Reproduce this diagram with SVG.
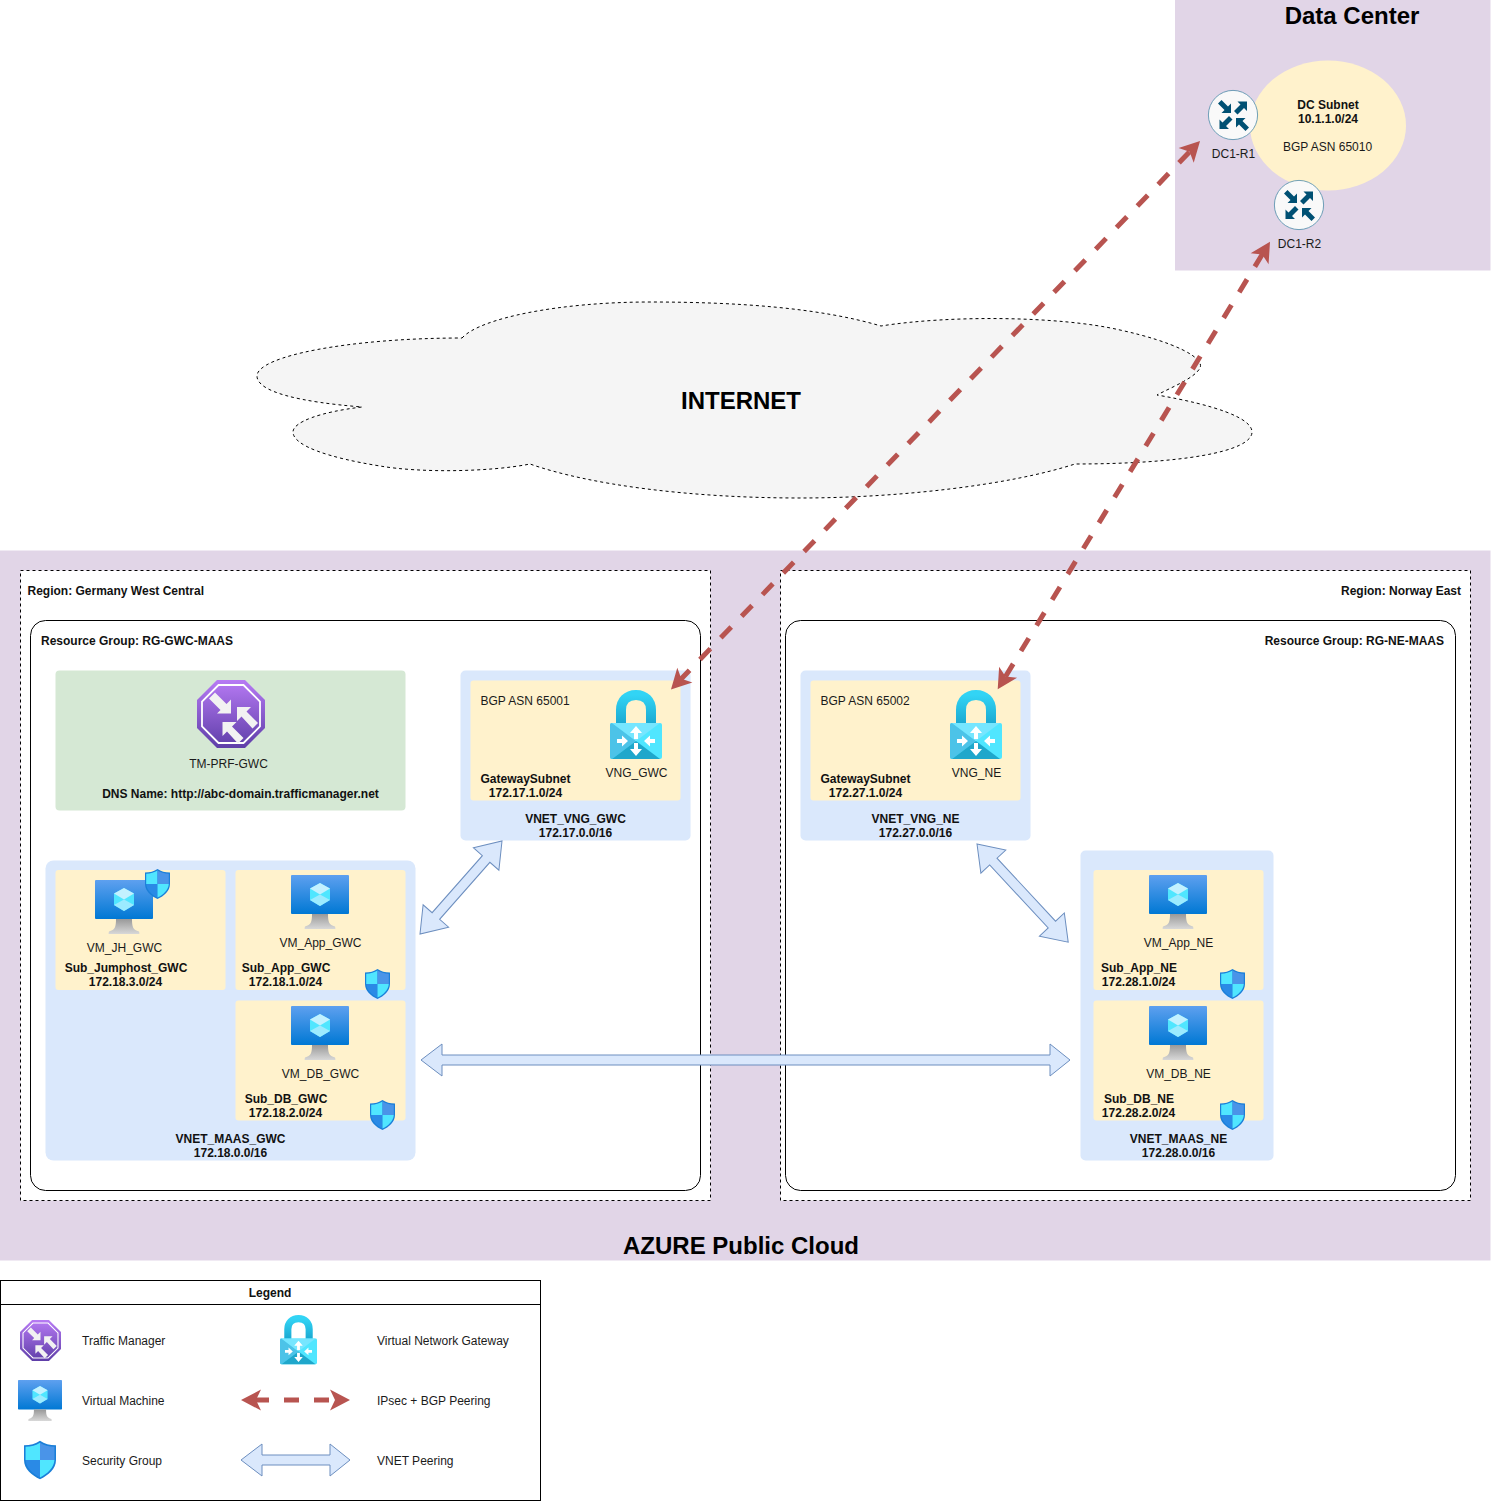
<svg xmlns="http://www.w3.org/2000/svg" width="1491" height="1501" viewBox="0 0 1491 1501">
<style>
text{font-family:"Liberation Sans",Arial,sans-serif;font-size:12px;fill:#1a1a1a}
.c{text-anchor:middle}
.b{font-weight:bold;fill:#111}
.t{font-size:24px;font-weight:bold;fill:#000;text-anchor:middle}
.purple{fill:#e1d5e7}
.region{fill:#fff;stroke:#000;stroke-width:1;stroke-dasharray:3 3}
.rg{fill:#fff;stroke:#000;stroke-width:1}
.vnet{fill:#dae8fc}
.sub{fill:#fff2cc}
.green{fill:#d5e8d4}
.ipsec{fill:none;stroke:#b85450;stroke-width:5;stroke-dasharray:15 15;marker-start:url(#rh);marker-end:url(#rh)}
.peer{fill:#dae8fc;stroke:#6c8ebf;stroke-width:1}
</style>
<defs>
<marker id="rh" markerUnits="userSpaceOnUse" markerWidth="30" markerHeight="30" viewBox="-2 -15 30 30" refX="10" refY="0" orient="auto-start-reverse"><path d="M20,0L0,-10.500L5,0L0,10.500Z" fill="#b85450"/></marker>
<linearGradient id="gv" x1="0" y1="0" x2="0" y2="1"><stop offset="0" stop-color="#5ea0ef"/><stop offset="1" stop-color="#0078d4"/></linearGradient>
<linearGradient id="gs" x1="0" y1="0" x2="0" y2="1"><stop offset="0" stop-color="#999"/><stop offset="1" stop-color="#d8d8d8"/></linearGradient>
<linearGradient id="gt" x1="0" y1="0" x2="0" y2="1"><stop offset="0" stop-color="#b77af4"/><stop offset="1" stop-color="#5e3ea8"/></linearGradient>
<linearGradient id="gl" x1="0" y1="0" x2="0" y2="1"><stop offset="0" stop-color="#32d4f5"/><stop offset="1" stop-color="#19a5ce"/></linearGradient>
<symbol id="vm" viewBox="0 0 58 54" overflow="visible">
<rect x="0" y="0" width="58" height="39" rx="1" fill="url(#gv)"/>
<path d="M21,39H37C37,47 38,50 44,51.5Q45,54 44,54H14Q13,54 14,51.5C20,50 21,47 21,39Z" fill="url(#gs)"/>
<path d="M29,8L39,13.5V25L29,31L19,25V13.5Z" fill="#50e6ff"/>
<path d="M29,8L39,13.5L29,19.5L19,13.5Z" fill="#c3f1ff"/>
<path d="M29,19.5L39,25L29,31L19,25Z" fill="#9cebff"/>
</symbol>
<symbol id="shield" viewBox="0 0 25 30" overflow="visible">
<path d="M12.5,0C16,2.5 20,3.5 25,3.5V15C25,22 19,27 12.5,30C6,27 0,22 0,15V3.5C5,3.5 9,2.5 12.5,0Z" fill="#1b7fd8"/>
<path d="M12.5,1.5V15H1.2V4.7C5.5,4.5 9.5,3.5 12.5,1.5Z" fill="#50e6ff"/>
<path d="M12.5,1.5V15H23.8V4.7C19.5,4.5 15.5,3.5 12.5,1.5Z" fill="#4a94e8"/>
<path d="M12.5,15H1.2C1.5,21 7,26 12.5,28.6Z" fill="#2a8ae6"/>
<path d="M12.5,15H23.8C23.5,21 18,26 12.5,28.6Z" fill="#50e6ff"/>
</symbol>
<symbol id="vng" viewBox="0 0 52 70" overflow="visible">
<path d="M11,36V20C11,11 17,5 26,5C35,5 41,11 41,20V36" fill="none" stroke="url(#gl)" stroke-width="10"/>
<path d="M2,33H50Q52,33 52,35V67Q52,69 50,69H2Q0,69 0,67V35Q0,33 2,33Z" fill="#50e6ff"/>
<path d="M0,35Q0,33 2,33L26,51L2,69Q0,69 0,67Z" fill="#4cc3e8"/>
<path d="M2,33H50L26,51Z" fill="#76e6ff"/>
<path d="M2,69H50L26,51Z" fill="#1fa7cb"/>
<g fill="#fff">
<path d="M26,36L32,43H28V49H24V43H20Z"/><path d="M26,66L20,59H24V53H28V59H32Z"/>
<path d="M18,51L12,45.500V49H7V53H12V56.500Z"/><path d="M34,51L40,45.500V49H45V53H40V56.500Z"/>
</g>
</symbol>
<symbol id="tm" viewBox="0 0 68 68" overflow="visible">
<path d="M20,0H48L68,20V48L48,68H20L0,48V20Z" fill="url(#gt)"/>
<path d="M21.5,5H46.5L63,21.500V46.5L46.5,63H21.500L5,46.5V21.500Z" fill="none" stroke="#fff" stroke-width="1.800"/>
<g fill="#f2f2f2">
<path d="M34,33.500V19.500L29.500,24L18,12.500L12,18.500L23.500,30L20,33.500Z"/>
<path d="M40,27H54L49.500,31.500L61,43L55.500,48.500L44.500,36.500L40,41Z"/>
<path d="M25.500,42H39.500L35,46.500L46.500,58L41,63.500L30,51.500L25.500,56Z"/>
</g>
</symbol>
<symbol id="router" viewBox="0 0 50 50" overflow="visible">
<circle cx="25" cy="25" r="24.600" fill="#f9f9f9" stroke="#4d8aa8" stroke-width="0.800"/>
<g fill="#005073">
<path d="M23,23V13.500L20,16.500L13.500,10L10,13.500L16.500,20L13.500,23Z"/>
<path d="M39,11.500H29.500L32.500,14.500L26,21L29.500,24.500L36,18L39,21Z"/>
<path d="M11.500,39H21L18,36L24.500,29.500L21,26L14.500,32.500L11.500,29.500Z"/>
<path d="M28,28H37.500L34.500,31L41,37.500L37.500,41L31,34.500L28,37.500Z"/>
</g>
</symbol>
</defs>
<rect width="1491" height="1501" fill="#fff"/>
<g id="data-center">
<rect class="purple" x="1175" y="0" width="315.500" height="270.500"/>
<text class="t" x="1352" y="24">Data Center</text>
</g>
<g id="dc-subnet">
<ellipse class="sub" cx="1328" cy="125.500" rx="78" ry="65"/>
<text class="c b" x="1328" y="109">DC Subnet</text>
<text class="c b" x="1328" y="123">10.1.1.0/24</text>
<text class="c" x="1327.500" y="151">BGP ASN 65010</text>
</g>
<g id="dc1-r1"><use href="#router" x="1208" y="90" width="50" height="50"/><text class="c" x="1233.500" y="158">DC1-R1</text></g>
<g id="dc1-r2"><use href="#router" x="1274" y="180" width="50" height="50"/><text class="c" x="1299.500" y="248">DC1-R2</text></g>
<g id="internet">
<path d="M462,338C480,318 560,302 650,302C740,302 820,308 881,326C950,315 1060,316 1120,330C1175,342 1205,358 1200,368C1195,378 1170,388 1157,395C1215,405 1252,418 1252,432C1252,452 1180,464 1075,464C1010,485 900,498 800,498C690,498 590,485 530,464C490,472 420,473 380,466C330,458 293,446 293,432C293,422 320,412 362,407C300,402 257,392 257,376C257,356 350,338 462,338Z" fill="#f5f5f5" stroke="#000" stroke-width="1" stroke-dasharray="3 3"/>
<text class="t" x="741" y="409">INTERNET</text>
</g>
<g id="azure">
<rect class="purple" x="0" y="550.500" width="1490.500" height="710"/>
<text class="t" x="741" y="1254">AZURE Public Cloud</text>
</g>
<g id="region-gwc">
<rect class="region" x="20.500" y="570.500" width="690" height="630"/>
<text class="b" x="27.500" y="595">Region: Germany West Central</text>
</g>
<g id="region-ne">
<rect class="region" x="780.500" y="570.500" width="690" height="630"/>
<text class="b" x="1461" y="595" text-anchor="end">Region: Norway East</text>
</g>
<g id="rg-gwc">
<rect class="rg" x="30.500" y="620.500" width="670" height="570" rx="15"/>
<text class="b" x="41" y="645">Resource Group: RG-GWC-MAAS</text>
</g>
<g id="rg-ne">
<rect class="rg" x="785.500" y="620.500" width="670" height="570" rx="15"/>
<text class="b" x="1444" y="645" text-anchor="end">Resource Group: RG-NE-MAAS</text>
</g>
<g id="tm-prf-gwc">
<rect class="green" x="55.500" y="670.500" width="350" height="140" rx="4"/>
<use href="#tm" x="197" y="680" width="68" height="68"/>
<text class="c" x="228.500" y="768">TM-PRF-GWC</text>
<text class="c b" x="240.500" y="798">DNS Name: http://abc-domain.trafficmanager.net</text>
</g>
<g id="vnet-vng-gwc">
<rect class="vnet" x="460.500" y="670.500" width="230" height="170" rx="5"/>
<rect class="sub" x="470.500" y="680.500" width="210" height="120" rx="3"/>
<text x="480.500" y="705">BGP ASN 65001</text>
<use href="#vng" x="610" y="690" width="52" height="70"/>
<text class="c" x="636.500" y="777">VNG_GWC</text>
<text class="c b" x="525.500" y="783">GatewaySubnet</text>
<text class="c b" x="525.500" y="797">172.17.1.0/24</text>
<text class="c b" x="575.500" y="823">VNET_VNG_GWC</text>
<text class="c b" x="575.500" y="837">172.17.0.0/16</text>
</g>
<g id="vnet-vng-ne">
<rect class="vnet" x="800.500" y="670.500" width="230" height="170" rx="5"/>
<rect class="sub" x="810.500" y="680.500" width="210" height="120" rx="3"/>
<text x="820.500" y="705">BGP ASN 65002</text>
<use href="#vng" x="950" y="690" width="52" height="70"/>
<text class="c" x="976.500" y="777">VNG_NE</text>
<text class="c b" x="865.500" y="783">GatewaySubnet</text>
<text class="c b" x="865.500" y="797">172.27.1.0/24</text>
<text class="c b" x="915.500" y="823">VNET_VNG_NE</text>
<text class="c b" x="915.500" y="837">172.27.0.0/16</text>
</g>
<g id="vnet-maas-gwc">
<rect class="vnet" x="45.500" y="860.500" width="370" height="300" rx="8"/>
<text class="c b" x="230.500" y="1143">VNET_MAAS_GWC</text>
<text class="c b" x="230.500" y="1157">172.18.0.0/16</text>
</g>
<g id="sub-jumphost-gwc">
<rect class="sub" x="55.500" y="870" width="170" height="120" rx="3"/>
<use href="#vm" x="95" y="880" width="58" height="54"/>
<use href="#shield" x="145" y="869" width="25" height="30"/>
<text class="c" x="124.500" y="952">VM_JH_GWC</text>
<text class="c b" x="126" y="972">Sub_Jumphost_GWC</text>
<text class="c b" x="125.500" y="986">172.18.3.0/24</text>
</g>
<g id="sub-app-gwc">
<rect class="sub" x="235.500" y="870" width="170" height="120" rx="3"/>
<use href="#vm" x="291" y="875" width="58" height="54"/>
<use href="#shield" x="365" y="969" width="25" height="30"/>
<text class="c" x="320.500" y="947">VM_App_GWC</text>
<text class="c b" x="286" y="972">Sub_App_GWC</text>
<text class="c b" x="285.500" y="986">172.18.1.0/24</text>
</g>
<g id="sub-db-gwc">
<rect class="sub" x="235.500" y="1000.500" width="170" height="120" rx="3"/>
<use href="#vm" x="291" y="1006" width="58" height="54"/>
<use href="#shield" x="370" y="1100" width="25" height="30"/>
<text class="c" x="320.500" y="1078">VM_DB_GWC</text>
<text class="c b" x="286" y="1103">Sub_DB_GWC</text>
<text class="c b" x="285.500" y="1117">172.18.2.0/24</text>
</g>
<g id="vnet-maas-ne">
<rect class="vnet" x="1080.500" y="850.500" width="193" height="310" rx="5"/>
<text class="c b" x="1178.500" y="1143">VNET_MAAS_NE</text>
<text class="c b" x="1178.500" y="1157">172.28.0.0/16</text>
</g>
<g id="sub-app-ne">
<rect class="sub" x="1093.500" y="870" width="170" height="120" rx="3"/>
<use href="#vm" x="1149" y="875" width="58" height="54"/>
<use href="#shield" x="1220" y="969" width="25" height="30"/>
<text class="c" x="1178.500" y="947">VM_App_NE</text>
<text class="c b" x="1139" y="972">Sub_App_NE</text>
<text class="c b" x="1138.500" y="986">172.28.1.0/24</text>
</g>
<g id="sub-db-ne">
<rect class="sub" x="1093.500" y="1000.500" width="170" height="120" rx="3"/>
<use href="#vm" x="1149" y="1006" width="58" height="54"/>
<use href="#shield" x="1220" y="1100" width="25" height="30"/>
<text class="c" x="1178.500" y="1078">VM_DB_NE</text>
<text class="c b" x="1139" y="1103">Sub_DB_NE</text>
<text class="c b" x="1138.500" y="1117">172.28.2.0/24</text>
</g>
<g id="legend">
<rect x="0.500" y="1280.500" width="540" height="220" fill="#fff" stroke="#000"/>
<line x1="0.500" y1="1304.500" x2="540.500" y2="1304.500" stroke="#000"/>
<text class="c b" x="270" y="1297">Legend</text>
<use href="#tm" x="20" y="1320" width="41" height="41"/>
<text x="82" y="1345">Traffic Manager</text>
<use href="#vng" x="280" y="1315" width="37" height="50"/>
<text x="377" y="1345">Virtual Network Gateway</text>
<use href="#vm" x="18" y="1380" width="44" height="41"/>
<text x="82" y="1405">Virtual Machine</text>
<line class="ipsec" x1="251" y1="1400" x2="340" y2="1400" stroke-dashoffset="-3"/>
<text x="377" y="1405">IPsec + BGP Peering</text>
<use href="#shield" x="24" y="1440" width="32" height="40"/>
<text x="82" y="1465">Security Group</text>
<polygon class="peer" points="241,1460 262,1444 262,1455 330,1455 330,1444 350,1460 330,1476 330,1465 262,1465 262,1476"/>
<text x="377" y="1465">VNET Peering</text>
</g>
<g id="connectors">
<line class="ipsec" x1="677.900" y1="682.300" x2="1193.100" y2="148.200" stroke-dashoffset="-1.800"/>
<line class="ipsec" x1="1002.900" y1="680.800" x2="1264.800" y2="250.200" stroke-dashoffset="-4.800"/>
<polygon class="peer" points="421,1060 442,1044 442,1055 1050,1055 1050,1044 1070,1060 1050,1076 1050,1065 442,1065 442,1076"/>
<polygon class="peer" transform="translate(420,934) rotate(-48.600)" points="0,0 24,-17 24,-5 100,-5 100,-17 124,0 100,17 100,5 24,5 24,17"/>
<polygon class="peer" transform="translate(977,844) rotate(47.100)" points="0,0 24,-17 24,-5 110,-5 110,-17 134,0 110,17 110,5 24,5 24,17"/>
</g>
</svg>
